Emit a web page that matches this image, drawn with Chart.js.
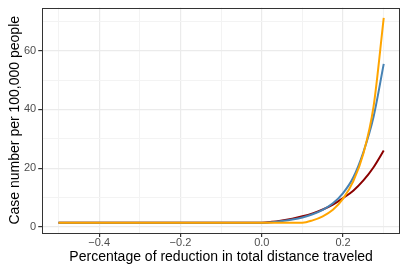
<!DOCTYPE html>
<html>
<head>
<meta charset="utf-8">
<script src="https://cdn.jsdelivr.net/npm/chart.js@4"></script>
<style>
    html, body { margin: 0; padding: 0; background: #ffffff; }
    #wrap { width: 407px; height: 271px; }
</style>
</head>
<body>
<div id="wrap"><canvas id="chart"></canvas></div>
<script>
// reduction in total distance traveled (shared x for all three curves)
const xValues = [-0.5, -0.4, -0.3, -0.2, -0.1, 0, 0.025, 0.05, 0.075, 0.1, 0.125, 0.15, 0.175, 0.2, 0.225, 0.25, 0.275, 0.3];

// case numbers per 100,000 people
const orangeCases = [1.4, 1.4, 1.4, 1.4, 1.4, 1.4, 1.4, 1.4, 1.4, 1.4, 2.2, 3.6, 5.8, 9.6, 15.5, 25.0, 41.0, 71.2];
const blueCases   = [1.4, 1.4, 1.4, 1.4, 1.4, 1.4, 1.6, 2.0, 2.5, 3.2, 4.3, 5.8, 8.0, 11.5, 16.8, 25.5, 37.5, 55.5];
const redCases    = [1.4, 1.4, 1.4, 1.4, 1.4, 1.4, 1.7, 2.2, 2.8, 3.6, 4.6, 5.9, 7.6, 9.8, 12.3, 15.8, 20.3, 26.0];

// axis ticks (minor ticks carry an empty label)
const xTicks = [-0.5, -0.4, -0.3, -0.2, -0.1, 0, 0.1, 0.2, 0.3];
const xTickLabels = ['', '\u22120.4', '', '\u22120.2', '', '0.0', '', '0.2', ''];
const yTicks = [0, 10, 20, 30, 40, 50, 60, 70];
const yTickLabels = ['0', '', '20', '', '40', '', '60', ''];

const toPoints = (ys) => xValues.map((x, i) => ({ x: x, y: ys[i] }));

const FONT = '"Liberation Sans", Arial, Helvetica, sans-serif';
const GRID_MAJOR = '#ebebeb';
const GRID_MINOR = '#f3f3f3';
const INK = '#333333';

// ggplot style panel border drawn round the plot area
const panelBorder = {
    id: 'panelBorder',
    afterDraw: (chart) => {
        const { ctx, chartArea: a } = chart;
        ctx.save();
        ctx.strokeStyle = INK;
        ctx.lineWidth = 1;
        ctx.strokeRect(Math.round(a.left) + 0.5, Math.round(a.top) + 0.5,
            Math.round(a.right - a.left) - 1, Math.round(a.bottom - a.top) - 1);
        ctx.restore();
    }
};

const line = (data, color) => ({
    data: toPoints(data),
    borderColor: color,
    borderWidth: 2,
    pointRadius: 0,
    fill: false,
    cubicInterpolationMode: 'monotone'
});

new Chart(document.getElementById('chart').getContext('2d'), {
    type: 'line',
    data: {
        datasets: [
            line(orangeCases, '#ffa500'),
            line(blueCases, '#4682b4'),
            line(redCases, '#8b0000')
        ]
    },
    options: {
        responsive: true,
        maintainAspectRatio: false,
        animation: false,
        layout: { padding: { left: 4, right: 7, top: 5, bottom: 7 } },
        plugins: {
            legend: { display: false },
            tooltip: { enabled: false }
        },
        scales: {
            x: {
                type: 'linear',
                min: -0.54,
                max: 0.34,
                afterBuildTicks: (axis) => { axis.ticks = xTicks.map(v => ({ value: v })); },
                ticks: {
                    autoSkip: false,
                    maxRotation: 0,
                    padding: 0,
                    color: '#4d4d4d',
                    font: { family: FONT, size: 11, lineHeight: 1 },
                    callback: (v, i) => xTickLabels[i]
                },
                grid: {
                    color: (c) => xTickLabels[c.index] ? GRID_MAJOR : GRID_MINOR,
                    lineWidth: (c) => xTickLabels[c.index] ? 1.2 : 1,
                    tickColor: (c) => xTickLabels[c.index] ? INK : 'rgba(0,0,0,0)',
                    tickLength: 4
                },
                border: { display: false },
                title: {
                    display: true,
                    text: 'Percentage of reduction in total distance traveled',
                    color: '#000000',
                    font: { family: FONT, size: 14, lineHeight: 1 },
                    padding: { top: 2, bottom: 0 }
                }
            },
            y: {
                min: -2.1,
                max: 74.7,
                afterBuildTicks: (axis) => { axis.ticks = yTicks.map(v => ({ value: v })); },
                ticks: {
                    autoSkip: false,
                    padding: 2,
                    color: '#4d4d4d',
                    font: { family: FONT, size: 11, lineHeight: 1 },
                    callback: (v, i) => yTickLabels[i]
                },
                grid: {
                    color: (c) => yTickLabels[c.index] ? GRID_MAJOR : GRID_MINOR,
                    lineWidth: (c) => yTickLabels[c.index] ? 1.2 : 1,
                    tickColor: (c) => yTickLabels[c.index] ? INK : 'rgba(0,0,0,0)',
                    tickLength: 4
                },
                border: { display: false },
                title: {
                    display: true,
                    text: 'Case number per 100,000 people',
                    color: '#000000',
                    font: { family: FONT, size: 14, lineHeight: 1 },
                    padding: { top: 4, bottom: 0 }
                }
            }
        }
    },
    plugins: [panelBorder]
});
</script>
</body>
</html>
